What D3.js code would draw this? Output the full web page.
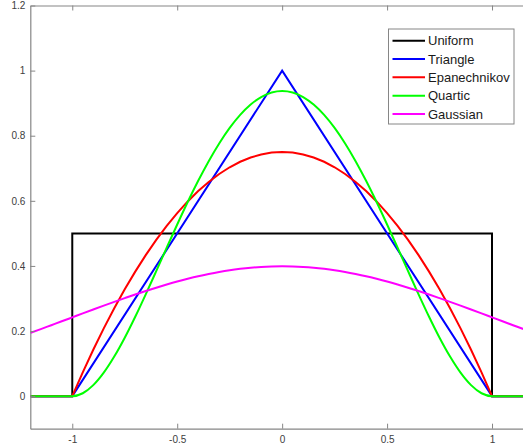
<!DOCTYPE html>
<html>
<head>
<meta charset="utf-8">
<script src="https://cdn.jsdelivr.net/npm/d3@7"></script>
<style>
  html, body { margin: 0; padding: 0; background: #fff; }
  svg { display: block; }
</style>
</head>
<body>
<svg id="chart" width="523" height="446"></svg>
<script>
// Kernel profiles sampled on a common grid from -1.2 to 1.2 (step 0.05)
const xGrid = [
  -1.2, -1.15, -1.1, -1.05, -1.0, -0.95, -0.9, -0.85, -0.8, -0.75, -0.7, -0.65, -0.6,
  -0.55, -0.5, -0.45, -0.4, -0.35, -0.3, -0.25, -0.2, -0.15, -0.1, -0.05, 0,
  0.05, 0.1, 0.15, 0.2, 0.25, 0.3, 0.35, 0.4, 0.45, 0.5, 0.55, 0.6,
  0.65, 0.7, 0.75, 0.8, 0.85, 0.9, 0.95, 1.0, 1.05, 1.1, 1.15, 1.2
];

const epanechnikovY = [
  0, 0, 0, 0, 0, 0.0731, 0.1425, 0.2081, 0.27, 0.3281, 0.3825, 0.4331, 0.48,
  0.5231, 0.5625, 0.5981, 0.63, 0.6581, 0.6825, 0.7031, 0.72, 0.7331, 0.7425, 0.7481, 0.75,
  0.7481, 0.7425, 0.7331, 0.72, 0.7031, 0.6825, 0.6581, 0.63, 0.5981, 0.5625, 0.5231, 0.48,
  0.4331, 0.3825, 0.3281, 0.27, 0.2081, 0.1425, 0.0731, 0, 0, 0, 0, 0
];

const quarticY = [
  0, 0, 0, 0, 0, 0.0089, 0.0338, 0.0722, 0.1215, 0.1794, 0.2438, 0.3127, 0.384,
  0.4561, 0.5273, 0.5963, 0.6615, 0.7219, 0.7763, 0.824, 0.864, 0.8958, 0.9188, 0.9328, 0.9375,
  0.9328, 0.9188, 0.8958, 0.864, 0.824, 0.7763, 0.7219, 0.6615, 0.5963, 0.5273, 0.4561, 0.384,
  0.3127, 0.2438, 0.1794, 0.1215, 0.0722, 0.0338, 0.0089, 0, 0, 0, 0, 0
];

const gaussianY = [
  0.1942, 0.2059, 0.2179, 0.2299, 0.2420, 0.2541, 0.2661, 0.2780, 0.2897, 0.3011, 0.3123, 0.3230, 0.3332,
  0.3429, 0.3521, 0.3605, 0.3683, 0.3752, 0.3814, 0.3867, 0.3910, 0.3945, 0.3970, 0.3984, 0.3989,
  0.3984, 0.3970, 0.3945, 0.3910, 0.3867, 0.3814, 0.3752, 0.3683, 0.3605, 0.3521, 0.3429, 0.3332,
  0.3230, 0.3123, 0.3011, 0.2897, 0.2780, 0.2661, 0.2541, 0.2420, 0.2299, 0.2179, 0.2059, 0.1942
];

// Piecewise-linear kernels: only the corner points are needed
const triangleX = [-1.2, -1, 0, 1, 1.2];
const triangleY = [0, 0, 1, 0, 0];
const uniformX = [-1.2, -1, -1, 1, 1, 1.2];
const uniformY = [0, 0, 0.5, 0.5, 0, 0];

const seriesNames = ["Uniform", "Triangle", "Epanechnikov", "Quartic", "Gaussian"];
const seriesColors = ["#000000", "#0000ff", "#ff0000", "#00ff00", "#ff00ff"];

const xTicks = [-1, -0.5, 0, 0.5, 1];
const yTicks = [0, 0.2, 0.4, 0.6, 0.8, 1, 1.2];

// Smooth kernels without corners get a monotone cubic; the rest stay linear
const series = [
  { name: seriesNames[0], xs: uniformX, ys: uniformY, curve: d3.curveLinear },
  { name: seriesNames[1], xs: triangleX, ys: triangleY, curve: d3.curveLinear },
  { name: seriesNames[2], xs: xGrid, ys: epanechnikovY, curve: d3.curveLinear },
  { name: seriesNames[3], xs: xGrid, ys: quarticY, curve: d3.curveMonotoneX },
  { name: seriesNames[4], xs: xGrid, ys: gaussianY, curve: d3.curveMonotoneX }
].map((s, i) => ({ ...s, color: seriesColors[i], pts: s.xs.map((x, j) => [x, s.ys[j]]) }));

const svg = d3.select("#chart");
const plotLeft = 30.3, plotTop = 5.5, plotBottom = 428.7, plotRight = 534;
const x = d3.scaleLinear().domain([-1.2, 1.2]).range([plotLeft, plotRight]);
const y = d3.scaleLinear().domain([-0.1, 1.2]).range([plotBottom, plotTop]);

const axisColor = "#868686";
const labelColor = "#404040";

svg.append("defs").append("clipPath").attr("id", "plotClip")
  .append("rect").attr("x", plotLeft).attr("y", plotTop)
  .attr("width", plotRight - plotLeft).attr("height", plotBottom - plotTop);

// Curves
const plot = svg.append("g").attr("clip-path", "url(#plotClip)");
series.forEach(s => {
  const line = d3.line().x(d => x(d[0])).y(d => y(d[1])).curve(s.curve);
  plot.append("path")
    .attr("d", line(s.pts))
    .attr("fill", "none")
    .attr("stroke", s.color)
    .attr("stroke-width", 2)
    .attr("stroke-linejoin", "miter");
});

// Axes (ticks point inward, box on); plain hyphen for negatives
const fmt = d => String(d);
const xAxis = d3.axisBottom(x).tickValues(xTicks).tickSizeInner(-5).tickSizeOuter(0).tickPadding(7)
  .tickFormat(fmt);
const yAxis = d3.axisLeft(y).tickValues(yTicks).tickSizeInner(-5).tickSizeOuter(0).tickPadding(5)
  .tickFormat(fmt);
const xTop = d3.axisTop(x).tickValues(xTicks).tickSizeInner(-5).tickSizeOuter(0).tickFormat("");

const gx = svg.append("g").attr("transform", `translate(0,${plotBottom})`).call(xAxis);
const gy = svg.append("g").attr("transform", `translate(${plotLeft},0)`).call(yAxis);
const gt = svg.append("g").attr("transform", `translate(0,${plotTop})`).call(xTop);

[gx, gy, gt].forEach(g => {
  g.select(".domain").attr("stroke", axisColor).attr("stroke-width", 1.2);
  g.selectAll(".tick line").attr("stroke", axisColor).attr("stroke-width", 1);
  g.selectAll(".tick text")
    .attr("fill", labelColor)
    .style("font-family", "'Liberation Sans', Arial, sans-serif")
    .style("font-size", "10px");
});

// Legend
const legend = svg.append("g");
const lgX = 388.5, lgY = 29, lgW = 125.5, lgH = 95;
legend.append("rect")
  .attr("x", lgX).attr("y", lgY).attr("width", lgW).attr("height", lgH)
  .attr("fill", "#fff").attr("stroke", axisColor).attr("stroke-width", 1);
const rowY = d3.scalePoint().domain(seriesNames).range([40.7, 114]);
series.forEach(s => {
  const yy = rowY(s.name);
  legend.append("line")
    .attr("x1", 392.5).attr("x2", 425).attr("y1", yy).attr("y2", yy)
    .attr("stroke", s.color).attr("stroke-width", 2);
  legend.append("text")
    .attr("x", 428).attr("y", yy).attr("dy", "0.36em")
    .attr("fill", "#1a1a1a")
    .style("font-family", "'Liberation Sans', Arial, sans-serif")
    .style("font-size", "13px")
    .text(s.name);
});
</script>
</body>
</html>
